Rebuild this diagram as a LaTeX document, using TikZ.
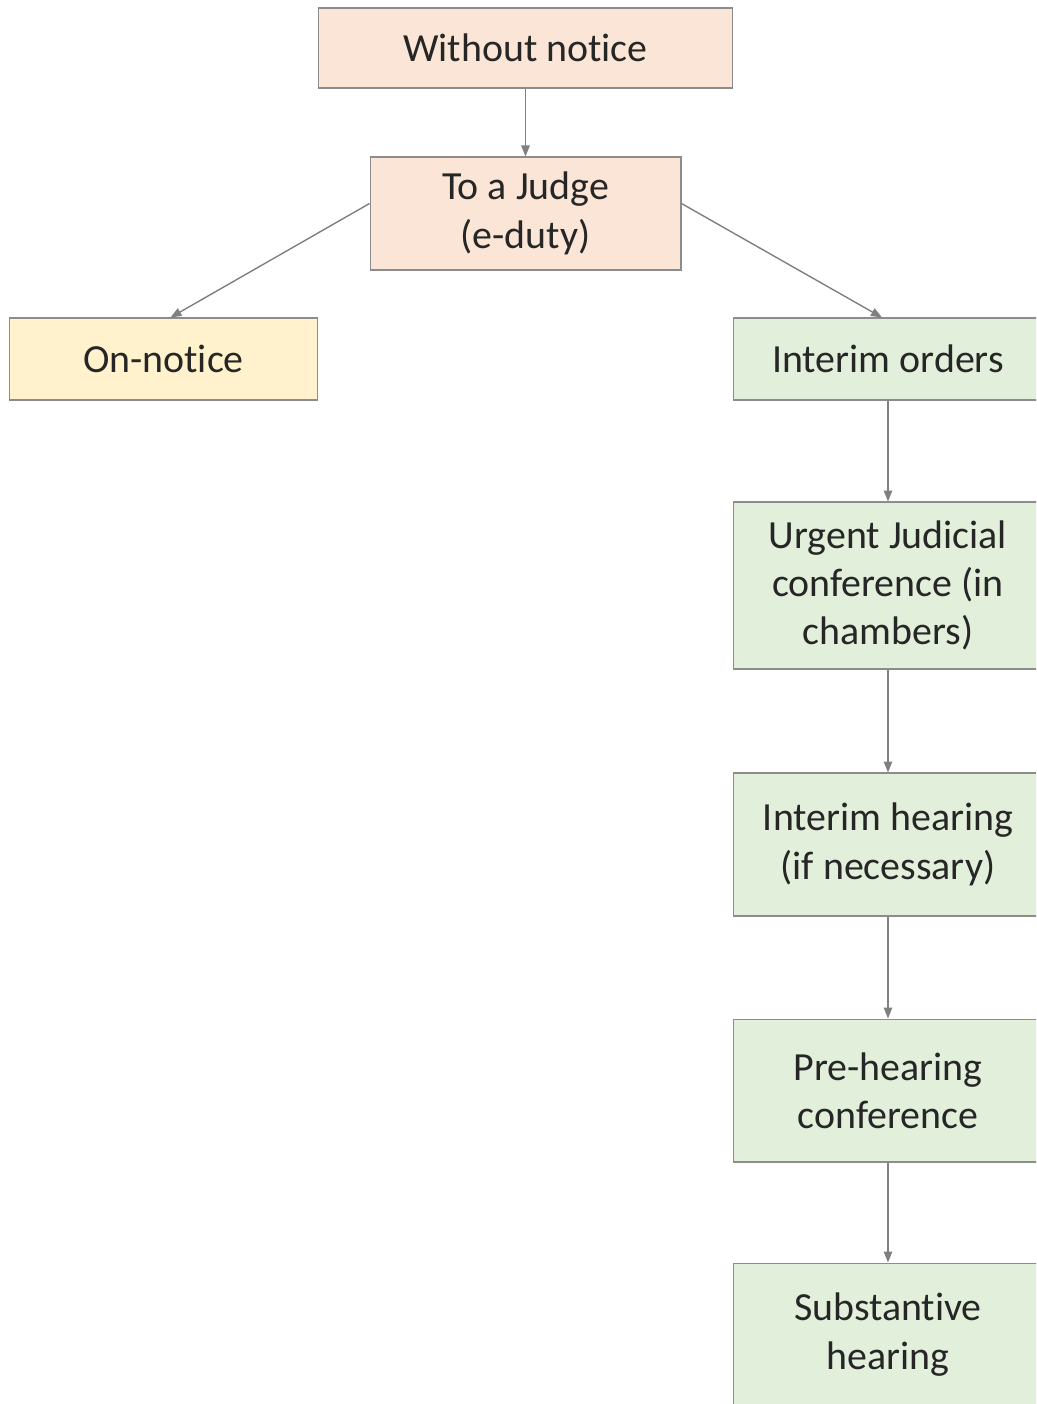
\documentclass[tikz,border=0pt]{standalone}
\usepackage{fontspec}
\setmainfont{Carlito}[Ligatures={NoCommon,NoRare,NoDiscretionary}]
\usetikzlibrary{arrows.meta}
\definecolor{peach}{RGB}{251,229,214}
\definecolor{cream}{RGB}{255,242,204}
\definecolor{mint}{RGB}{226,239,218}
\definecolor{edge}{RGB}{140,140,140}
\definecolor{link}{RGB}{128,128,128}
\begin{document}
\begin{tikzpicture}[x=0.02cm, y=-0.02cm,
  box/.style={draw=edge, line width=0.6pt, align=center, inner sep=0pt,
    font=\fontsize{22.7}{27.5}\selectfont, text=black!85},
  link/.style={draw=link, line width=0.8pt, -{Triangle[length=0.22cm, width=0.17cm]}}]
\clip (0,0) rectangle (1036,1404);
\useasboundingbox (0,0) rectangle (1036,1404);
\fill[white] (0,0) rectangle (1036,1404);
% top of the tree
\node [box, fill=peach, minimum width=8.3cm, minimum height=1.6cm] (notice) at (525.5,48) {Without notice};
\node [box, fill=peach, minimum width=6.22cm, minimum height=2.26cm] (judge) at (525.5,213.5) {To a Judge\\(e-duty)};
\node [box, fill=cream, minimum width=6.18cm, minimum height=1.64cm] (onnotice) at (163.5,359) {On-notice};
% right column
\node [box, fill=mint, minimum width=6.2cm, minimum height=1.64cm] (orders) at (888,359) {Interim orders};
\node [box, fill=mint, minimum width=6.2cm, minimum height=3.34cm] (urgent) at (888,585.5) {Urgent Judicial\\conference (in\\chambers)};
\node [box, fill=mint, minimum width=6.2cm, minimum height=2.86cm] (interim) at (888,844.5) {Interim hearing\\(if necessary)};
\node [box, fill=mint, minimum width=6.2cm, minimum height=2.86cm] (prehearing) at (888,1090.5) {Pre-hearing\\conference};
\node [box, fill=mint, minimum width=6.2cm, minimum height=2.86cm] (substantive) at (888,1334.5) {Substantive\\hearing};
\draw [link] (notice) -- (judge);
\draw [link] ([yshift=0.2cm]judge.west) -- ([xshift=0.14cm]onnotice.north);
\draw [link] ([yshift=0.2cm]judge.east) -- ([xshift=-0.12cm]orders.north);
\draw [link] (orders) -- (urgent);
\draw [link] (urgent) -- (interim);
\draw [link] (interim) -- (prehearing);
\draw [link] (prehearing) -- (substantive);
\end{tikzpicture}
\end{document}
